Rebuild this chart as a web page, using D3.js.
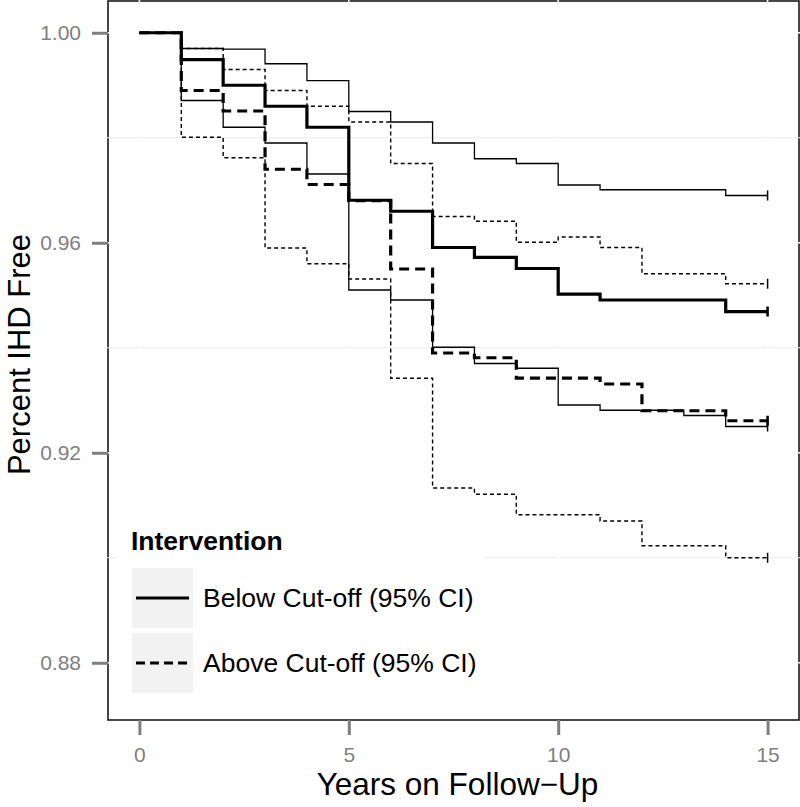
<!DOCTYPE html>
<html><head><meta charset="utf-8">
<script src="https://cdn.jsdelivr.net/npm/d3@7/dist/d3.min.js"></script>
<style>html,body{margin:0;padding:0;background:#fff;}svg{display:block;font-family:"Liberation Sans",Arial,sans-serif;}</style>
</head><body>
<svg id="chart" width="800" height="807"></svg>
<script>
// ---- data ----
const years = [0,1,2,3,4,5,6,7,8,9,10,11,12,13,14];
const endYear = 15;
const belowEst   = [1.0,0.9949,0.9900,0.9860,0.9820,0.9681,0.9660,0.9591,0.9572,0.9551,0.9502,0.9491,0.9491,0.9491,0.9469];
const belowUpper = [1.0,0.9970,0.9969,0.9941,0.9909,0.9850,0.9830,0.9790,0.9760,0.9751,0.9710,0.9701,0.9701,0.9701,0.9690];
const belowLower = [1.0,0.9871,0.9820,0.9790,0.9731,0.9510,0.9491,0.9401,0.9370,0.9361,0.9291,0.9281,0.9281,0.9271,0.9250];
const aboveEst   = [1.0,0.9890,0.9851,0.9740,0.9711,0.9680,0.9550,0.9390,0.9381,0.9342,0.9342,0.9331,0.9280,0.9280,0.9261];
const aboveUpper = [1.0,0.9970,0.9930,0.9890,0.9860,0.9830,0.9751,0.9650,0.9641,0.9601,0.9611,0.9591,0.9541,0.9541,0.9522];
const aboveLower = [1.0,0.9801,0.9762,0.9590,0.9560,0.9531,0.9342,0.9133,0.9121,0.9082,0.9082,0.9070,0.9023,0.9023,0.9000];
const xTicks = [0,5,10,15];
const yTicks = [0.88,0.92,0.96,1.00];
const yMinor = [0.90,0.94,0.98];
const legendTitle = "Intervention";
const legendLabels = ["Below Cut-off (95% CI)","Above Cut-off (95% CI)"];
const xTitle = "Years on Follow\u2212Up";
const yTitle = "Percent IHD Free";

// ---- layout ----
const P = {l:108, r:799, t:1, b:720};
const svg = d3.select("#chart");
const x = d3.scaleLinear().domain([-0.75,15.75]).range([P.l,P.r]);
const y = d3.scaleLinear().domain([0.8691,1.00605]).range([P.b,P.t]);

svg.append("rect").attr("width",800).attr("height",807).attr("fill","#fff");

// panel border
svg.append("rect").attr("x",P.l).attr("y",P.t).attr("width",P.r-P.l).attr("height",P.b-P.t)
  .attr("fill","none").attr("stroke","#1a1a1a").attr("stroke-width",1.6);

// gridlines (drawn over border like the reference)
svg.append("g").selectAll("line").data(yMinor).join("line")
  .attr("x1",P.l-1).attr("x2",P.r+1).attr("y1",d=>y(d)).attr("y2",d=>y(d))
  .attr("stroke","#ebebeb").attr("stroke-width",1.2);
svg.append("g").selectAll("line").data(yTicks).join("line")
  .attr("x1",P.l-1).attr("x2",P.r+1).attr("y1",d=>y(d)).attr("y2",d=>y(d))
  .attr("stroke","#ffffff").attr("stroke-width",1.5);
svg.append("g").selectAll("line").data(xTicks).join("line")
  .attr("y1",P.t-1).attr("y2",P.b-2).attr("x1",d=>x(d)).attr("x2",d=>x(d))
  .attr("stroke","#ffffff").attr("stroke-width",1.5);

// axes
const tickCol = "#7f7f7f";
const yAxis = svg.append("g").attr("transform",`translate(${P.l},0)`)
  .call(d3.axisLeft(y).tickValues(yTicks).tickFormat(d3.format(".2f")).tickSize(16).tickPadding(11));
const xAxis = svg.append("g").attr("transform",`translate(0,${P.b})`)
  .call(d3.axisBottom(x).tickValues(xTicks).tickFormat(d3.format("d")).tickSize(15).tickPadding(12));
[yAxis,xAxis].forEach(a=>{
  a.select(".domain").remove();
  a.selectAll(".tick line").attr("stroke",tickCol).attr("stroke-width",3);
  a.selectAll(".tick text").attr("fill",tickCol).attr("font-size",21)
    .attr("font-family","'Liberation Sans',Arial,sans-serif");
});

// curves
const line = d3.line().x(d=>x(d[0])).y(d=>y(d[1])).curve(d3.curveStepAfter);
const series = [
  {v:belowUpper, w:1.3, dash:null},
  {v:belowLower, w:1.3, dash:null},
  {v:aboveUpper, w:1.4, dash:"4,3"},
  {v:aboveLower, w:1.4, dash:"4,3"},
  {v:belowEst, w:3.2, dash:null},
  {v:aboveEst, w:3.2, dash:"10,6"}
];
series.forEach(s=>{
  const pts = years.map((t,i)=>[t,s.v[i]]);
  pts.push([endYear, s.v[s.v.length-1]]);
  svg.append("path").datum(pts).attr("d",line).attr("fill","none")
    .attr("stroke","#000").attr("stroke-width",s.w)
    .attr("stroke-dasharray",s.dash);
  const last = s.v[s.v.length-1];
  svg.append("line").attr("x1",x(endYear)).attr("x2",x(endYear))
    .attr("y1",y(last)-5).attr("y2",y(last)+5)
    .attr("stroke","#000").attr("stroke-width",Math.max(1.5,s.w*0.8));
});

// legend
const lg = svg.append("g");
lg.append("rect").attr("x",117).attr("y",510).attr("width",367).attr("height",196).attr("fill","#fff");
lg.append("text").attr("x",131).attr("y",550).attr("font-size",26.5).attr("font-weight","bold")
  .attr("fill","#000").text(legendTitle);
const keyDash = [null,"9,5"];
legendLabels.forEach((lab,i)=>{
  const top = 568 + i*65;
  lg.append("rect").attr("x",132).attr("y",top).attr("width",61).attr("height",60).attr("fill","#f2f2f2");
  lg.append("line").attr("x1",136).attr("x2",189).attr("y1",top+30).attr("y2",top+30)
    .attr("stroke","#000").attr("stroke-width",3).attr("stroke-dasharray",keyDash[i]);
  lg.append("text").attr("x",203).attr("y",top+39).attr("font-size",26.5).attr("fill","#000").text(lab);
});

// axis titles
svg.append("text").attr("x",(P.l+P.r)/2 + 4).attr("y",795).attr("text-anchor","middle")
  .attr("font-size",31.5).attr("fill","#000").text(xTitle);
svg.append("text").attr("transform",`translate(30,${(P.t+P.b)/2 - 6}) rotate(-90)`)
  .attr("text-anchor","middle").attr("font-size",31).attr("fill","#000").text(yTitle);
</script>
</body></html>
